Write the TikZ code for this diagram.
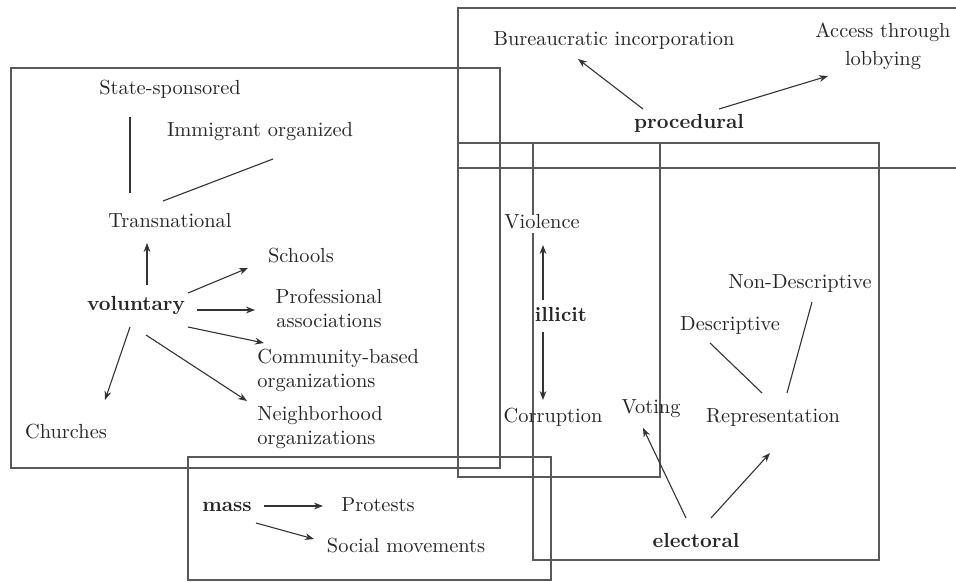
\documentclass[tikz,border=0pt]{standalone}
\usetikzlibrary{arrows.meta,calc}
\begin{document}
\begin{tikzpicture}[x=0.5pt,y=-0.5pt,
  font=\fontsize{10.2}{12}\selectfont,
  lbl/.style={inner sep=0pt,text=black!85,text height=7pt,text depth=2pt},
  two/.style={inner sep=0pt,text=black!85},
  boxline/.style={draw=black!65,line width=0.6pt},
  con/.style={draw=black!80,line width=0.55pt},
  arr/.style={con,-{Stealth[length=4.5pt,width=3.4pt]}}
]
\useasboundingbox (0,0) rectangle (956,582);
% boxes
\draw[boxline] (11,68) rectangle (500,468);
\draw[boxline] (956,8) -- (458,8) -- (458,168) -- (956,168);
\draw[boxline] (458,143) rectangle (660,477);
\draw[boxline] (533,143) rectangle (879,560);
\draw[boxline] (188,457) rectangle (551,580);
% voluntary
\node[lbl] (state) at (170,90) {State-sponsored};
\node[lbl] (immig) at (260,132) {Immigrant organized};
\node[lbl] (trans) at (170,223) {Transnational};
\node[lbl] (schools) at (301,258) {Schools};
\node[lbl,font=\fontsize{10.2}{12}\selectfont\bfseries] (vol) at (136,305) {voluntary};
\node[two,align=center] (prof) at (329,308) {Professional\\associations};
\node[two,align=left,anchor=west] (comm) at (257,370) {Community-based\\organizations};
\node[two,align=left,anchor=west] (neigh) at (257,428) {Neighborhood\\organizations};
\node[lbl] (church) at (66,433) {Churches};
% mass
\node[lbl,font=\fontsize{10.2}{12}\selectfont\bfseries] (mass) at (227,506) {mass};
\node[lbl] (protests) at (378,506) {Protests};
\node[lbl] (social) at (406,547) {Social movements};
% procedural
\node[lbl] (bureau) at (614,41) {Bureaucratic incorporation};
\node[two,align=center,font=\fontsize{10.2}{14}\selectfont] (access) at (883,46) {Access through\\lobbying};
\node[lbl,font=\fontsize{10.2}{12}\selectfont\bfseries] (proc) at (689,124) {procedural};
% illicit
\node[lbl,fill=white] (viol) at (542,224) {Violence};
\node[lbl,fill=white,font=\fontsize{10.2}{12}\selectfont\bfseries] (illicit) at (561,316) {illicit};
\node[lbl] (corr) at (553,417) {Corruption};
% electoral
\node[lbl] (nondesc) at (800,283) {Non-Descriptive};
\node[lbl] (desc) at (730,325) {Descriptive};
\node[lbl] (rep) at (773,417) {Representation};
\node[lbl] (voting) at (651,408) {Voting};
\node[lbl,font=\fontsize{10.2}{12}\selectfont\bfseries] (elect) at (696,542) {electoral};
% connectors
\draw[con] ($(state)+(-40,27)$) -- ($(trans)+(-40,-30)$);
\draw[con] ($(immig)+(13,27)$) -- ($(trans)+(-7,-22)$);
\draw[arr] ($(vol)+(11,-20)$) -- ($(trans)+(-23,20)$);
\draw[arr] ($(vol)+(52,-12)$) -- ($(schools)+(-53,10)$);
\draw[arr] ($(vol)+(61,5)$) -- ($(prof)+(-74,2)$);
\draw[arr] ($(vol)+(52,22)$) -- ($(comm.west)+(7,-27)$);
\draw[arr] ($(vol)+(10,30)$) -- ($(neigh.west)+(-10,-27)$);
\draw[arr] ($(vol)+(-6,22)$) -- ($(church)+(39,-33)$);
\draw[arr] ($(mass)+(37,0)$) -- ($(protests)+(-55,0)$);
\draw[arr] ($(mass)+(29,17)$) -- ($(social)+(-92,-8)$);
\draw[arr] ($(proc)+(-46,-15)$) -- ($(bureau)+(-36,18)$);
\draw[arr] ($(proc)+(30,-15)$) -- ($(access)+(-55,30)$);
\draw[arr] ($(illicit)+(-18,-16)$) -- ($(viol)+(1,21)$);
\draw[arr] ($(illicit)+(-18,16)$) -- ($(corr)+(-10,-17)$);
\draw[con] ($(desc)+(-20,18)$) -- ($(rep)+(-11,-24)$);
\draw[con] ($(nondesc)+(12,19)$) -- ($(rep)+(14,-24)$);
\draw[arr] ($(elect)+(-10,-24)$) -- ($(voting)+(-8,20)$);
\draw[arr] ($(elect)+(15,-24)$) -- ($(rep)+(-3,36)$);
\end{tikzpicture}
\end{document}
